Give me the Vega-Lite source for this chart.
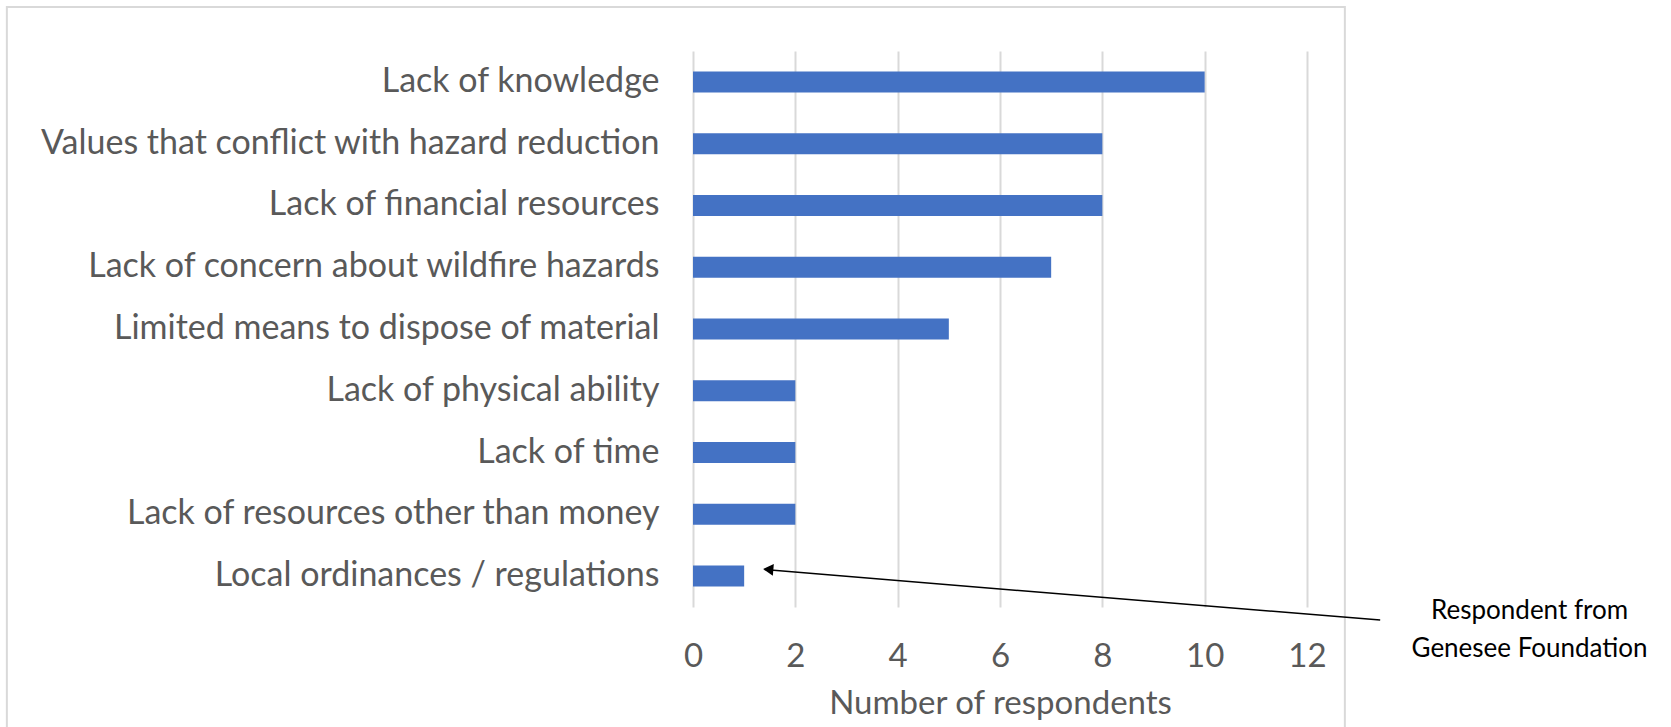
{
  "$schema": "https://vega.github.io/schema/vega-lite/v6.json",
  "width": 614,
  "height": 556,
  "autosize": {"type": "none"},
  "padding": {"left": 693, "top": 51, "right": 364, "bottom": 120},
  "background": "white",
  "config": {"view": {"stroke": null}, "font": "Lato"},
  "data": {
    "values": [
      {"reason": "Lack of knowledge", "count": 10},
      {"reason": "Values that conflict with hazard reduction", "count": 8},
      {"reason": "Lack of financial resources", "count": 8},
      {"reason": "Lack of concern about wildfire hazards", "count": 7},
      {"reason": "Limited means to dispose of material", "count": 5},
      {"reason": "Lack of physical ability", "count": 2},
      {"reason": "Lack of time", "count": 2},
      {"reason": "Lack of resources other than money", "count": 2},
      {"reason": "Local ordinances / regulations", "count": 1}
    ]
  },
  "layer": [
    {
      "data": {"values": [{}]},
      "mark": {"type": "rect", "fill": null, "stroke": "#d9d9d9", "strokeWidth": 2, "clip": false, "yOffset": -64.4, "y2Offset": 164},
      "encoding": {
        "x": {"datum": -13.41, "type": "quantitative"},
        "x2": {"datum": 12.74},
        "y": {"datum": "Lack of knowledge", "type": "nominal", "bandPosition": 0},
        "y2": {"datum": "Local ordinances / regulations", "bandPosition": 0}
      }
    },
    {
      "mark": {"type": "bar", "color": "#4472C4"},
      "encoding": {
        "y": {
          "field": "reason",
          "type": "nominal",
          "sort": null,
          "scale": {
            "domain": [
              "Lack of knowledge",
              "Values that conflict with hazard reduction",
              "Lack of financial resources",
              "Lack of concern about wildfire hazards",
              "Limited means to dispose of material",
              "Lack of physical ability",
              "Lack of time",
              "Lack of resources other than money",
              "Local ordinances / regulations"
            ],
            "paddingInner": 0.66,
            "paddingOuter": 0.33
          },
          "axis": {
            "title": null,
            "domain": false,
            "ticks": false,
            "labelPadding": 34,
            "labelFontSize": 34,
            "labelColor": "#595959",
            "labelLimit": 800
          }
        },
        "x": {
          "field": "count",
          "type": "quantitative",
          "scale": {"domain": [0, 12], "nice": false},
          "axis": {
            "values": [0, 2, 4, 6, 8, 10, 12],
            "title": "Number of respondents",
            "titleFontSize": 33,
            "titleFontWeight": "normal",
            "titleColor": "#595959",
            "titlePadding": 14,
            "domain": false,
            "ticks": false,
            "labelFlush": false,
            "labelPadding": 33,
            "labelFontSize": 33,
            "labelColor": "#595959",
            "grid": true,
            "gridColor": "#d9d9d9",
            "gridWidth": 2
          }
        }
      }
    },
    {
      "data": {"values": [{}]},
      "mark": {"type": "rule", "color": "black", "strokeWidth": 1.5, "clip": false, "yOffset": 44, "y2Offset": -6.5},
      "encoding": {
        "x": {"datum": 13.43, "type": "quantitative"},
        "x2": {"datum": 1.4},
        "y": {"datum": "Local ordinances / regulations", "type": "nominal", "bandPosition": 0.5},
        "y2": {"datum": "Local ordinances / regulations", "bandPosition": 0.5}
      }
    },
    {
      "data": {"values": [{}]},
      "mark": {"type": "point", "shape": "triangle-left", "filled": true, "color": "black", "opacity": 1, "size": 140, "angle": 4.7, "clip": false, "yOffset": -6.6},
      "encoding": {
        "x": {"datum": 1.47, "type": "quantitative"},
        "y": {"datum": "Local ordinances / regulations", "type": "nominal", "bandPosition": 0.5}
      }
    },
    {
      "data": {"values": [{}]},
      "mark": {"type": "text", "color": "black", "fontSize": 26, "align": "center", "baseline": "alphabetic", "lineHeight": 38, "clip": false, "yOffset": 43},
      "encoding": {
        "x": {"datum": 16.35, "type": "quantitative"},
        "y": {"datum": "Local ordinances / regulations", "type": "nominal", "bandPosition": 0.5},
        "text": {"value": ["Respondent from", "Genesee Foundation"]}
      }
    }
  ]
}
